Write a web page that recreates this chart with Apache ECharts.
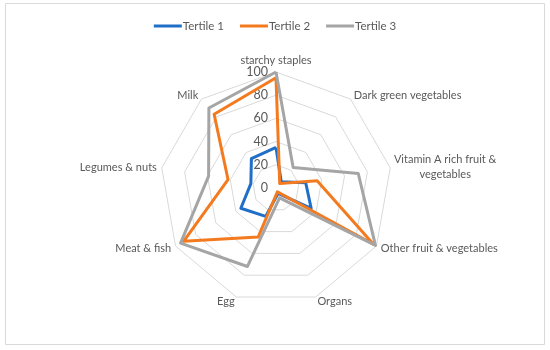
<!DOCTYPE html>
<html>
<head>
<meta charset="utf-8">
<script src="https://cdn.jsdelivr.net/npm/echarts@6/dist/echarts.min.js"></script>
<style>html,body{margin:0;padding:0;background:#fff}#c{width:550px;height:350px}</style>
</head>
<body>
<div id="c"></div>
<script>
const categories = ['starchy staples', 'Dark green vegetables', 'Vitamin A rich fruit & vegetables', 'Other fruit & vegetables', 'Organs', 'Egg', 'Meat & fish', 'Legumes & nuts', 'Milk'];
const seriesNames = ['Tertile 1', 'Tertile 2', 'Tertile 3'];
const tertile1 = [35, 7, 26, 35, 5, 26, 35, 22, 33];
const tertile2 = [95, 5, 36, 97, 3.5, 45, 92, 42, 83];
const tertile3 = [100, 23, 72, 99, 9, 72, 95, 59, 90];
const tickMax = 100;
const tickCount = 5;

const colors = ['#1F6FC8', '#F47A1F', '#A5A5A5'];
const font = 'Lato, "Open Sans", sans-serif';

// ECharts radar runs counter-clockwise; reorder so categories run clockwise
const order = [0].concat(categories.map((_, i) => i).slice(1).reverse());
const reorder = arr => order.map(i => arr[i]);

const chart = echarts.init(document.getElementById('c'), null, {renderer: 'canvas'});
const indicator = order.map((idx, k) => {
  const o = {name: categories[idx], min: 0, max: tickMax};
  if (k === 0) o.axisLabel = {show: true};
  return o;
});
chart.setOption({
  animation: false,
  color: colors,
  graphic: [{
    type: 'rect', shape: {x: 5.5, y: 3.5, width: 539, height: 341},
    style: {fill: 'none', stroke: '#D9D9D9', lineWidth: 1}, silent: true, z: -1
  }],
  legend: {
    top: 15, left: 'center',
    itemWidth: 28, itemHeight: 3, itemGap: 16,
    icon: 'rect',
    textStyle: {fontFamily: font, fontSize: 11.5, color: '#595959', padding: [0, 0, 0, -4]},
    data: seriesNames
  },
  radar: {
    center: [276, 188],
    radius: 116,
    shape: 'polygon',
    startAngle: 90,
    splitNumber: tickCount,
    indicator: indicator,
    nameGap: 5,
    axisName: {
      color: '#595959', fontFamily: font, fontSize: 11,
      formatter: function (v) {
        if (v.indexOf('Vitamin') === 0) return '{c|Vitamin A rich fruit &}\n{c|vegetables}';
        return v;
      },
      rich: {c: {width: 100, align: 'center', color: '#595959', fontFamily: font, fontSize: 11, lineHeight: 15}}
    },
    axisLine: {show: false},
    axisTick: {show: false},
    splitArea: {show: false},
    splitLine: {lineStyle: {color: '#D9D9D9', width: 1}},
    axisLabel: {show: false, color: '#595959', fontFamily: font, fontSize: 12.5, margin: 8}
  },
  series: [{
    type: 'radar',
    symbol: 'none',
    lineStyle: {width: 3},
    data: [
      {name: seriesNames[0], value: reorder(tertile1), lineStyle: {color: colors[0], width: 3}, itemStyle: {color: colors[0]}},
      {name: seriesNames[1], value: reorder(tertile2), lineStyle: {color: colors[1], width: 3}, itemStyle: {color: colors[1]}},
      {name: seriesNames[2], value: reorder(tertile3), lineStyle: {color: colors[2], width: 3}, itemStyle: {color: colors[2]}}
    ]
  }]
});
</script>
</body>
</html>
